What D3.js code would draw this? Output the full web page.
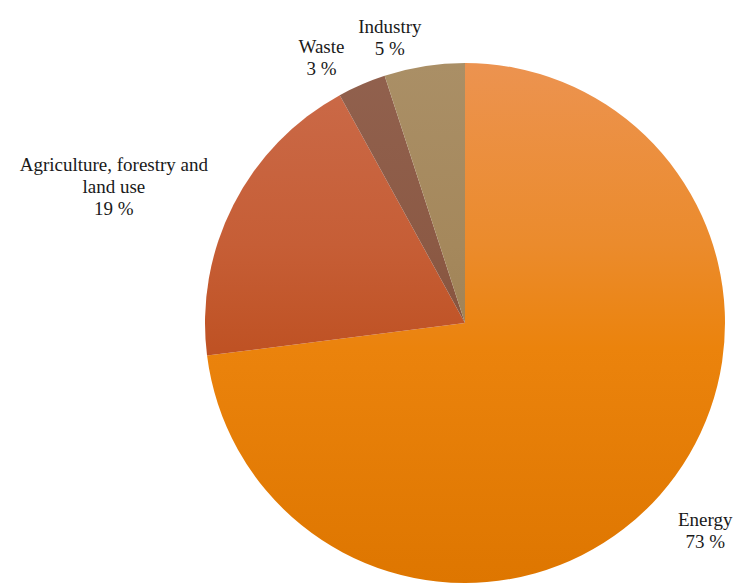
<!DOCTYPE html>
<html>
<head>
<meta charset="utf-8">
<script src="https://cdn.jsdelivr.net/npm/d3@7"></script>
<style>
  body { margin: 0; background: #fff; }
</style>
</head>
<body>
<div id="wrapper"></div>
<script>
const sectors = ["Energy", "Agriculture, forestry and land use", "Waste", "Industry"];
const shares = [73, 19, 3, 5];
const labelLines = [["Energy"], ["Agriculture, forestry and", "land use"], ["Waste"], ["Industry"]];
// vertical gradient stops per slice (top, upper, middle, bottom)
const sliceColors = [
  ["#ec9350", "#eb8b2c", "#eb830c", "#de7600"],
  ["#cb6b4a", "#c65e36", "#bf5224", "#b44614"],
  ["#91614e", "#8c5a45", "#85523c", "#7c4830"],
  ["#aa8f66", "#a5885c", "#9f8256", "#967a4e"]
];
const stopOffsets = ["0%", "35%", "55%", "100%"];

const width = 735, height = 585;
const cx = 465, cy = 323, radius = 260;
const fontSize = 19, lineH = 22;
const fontFamily = "'Liberation Serif', Tinos, 'Times New Roman', 'DejaVu Serif', 'Noto Serif', FreeSerif, serif";

const data = sectors.map((s, i) => ({ sector: s, value: shares[i], lines: labelLines[i], i }));

const svg = d3.select("#wrapper").append("svg")
  .attr("width", width)
  .attr("height", height);

const defs = svg.append("defs");
data.forEach(d => {
  const g = defs.append("linearGradient")
    .attr("id", "grad" + d.i)
    .attr("gradientUnits", "userSpaceOnUse")
    .attr("x1", 0).attr("x2", 0)
    .attr("y1", -radius).attr("y2", radius);
  sliceColors[d.i].forEach((c, k) => {
    g.append("stop").attr("offset", stopOffsets[k]).attr("stop-color", c);
  });
});

const bounds = svg.append("g").attr("transform", `translate(${cx},${cy})`);

const pie = d3.pie().value(d => d.value).sort(null);
const arc = d3.arc().innerRadius(0).outerRadius(radius);
const arcs = pie(data);

bounds.selectAll("path")
  .data(arcs)
  .join("path")
  .attr("d", arc)
  .attr("fill", d => `url(#grad${d.data.i})`);

// labels outside the rim, pushed out by half their box plus a little sideways
const gap = 8, sidePush = 28, downPush = 16, edge = 2;

const labels = bounds.selectAll("g.label")
  .data(arcs)
  .join("g")
  .attr("class", "label");

labels.each(function(d) {
  const g = d3.select(this);
  const lines = d.data.lines.concat([d.data.value + " %"]);
  const t = g.append("text")
    .attr("text-anchor", "middle")
    .style("font-family", fontFamily)
    .style("font-size", fontSize + "px")
    .attr("fill", "#1a1a1a");
  lines.forEach((l, k) => {
    t.append("tspan").attr("x", 0).attr("dy", k === 0 ? 0 : lineH).text(l);
  });
  const bb = t.node().getBBox();
  const a = (d.startAngle + d.endAngle) / 2;
  const sx = Math.sin(a), sy = -Math.cos(a);
  const px = (radius + gap) * sx + Math.sign(sx) * sidePush;
  const py = (radius + gap) * sy + (sy > 0 ? downPush : 0);
  let ox = px + sx * bb.width / 2 - (bb.x + bb.width / 2);
  const oy = py + sy * bb.height / 2 - (bb.y + bb.height / 2);
  // keep the box inside the page
  const right = cx + ox + bb.x + bb.width;
  if (right > width - edge) ox -= right - (width - edge);
  g.attr("transform", `translate(${ox},${oy})`);
});
</script>
</body>
</html>
